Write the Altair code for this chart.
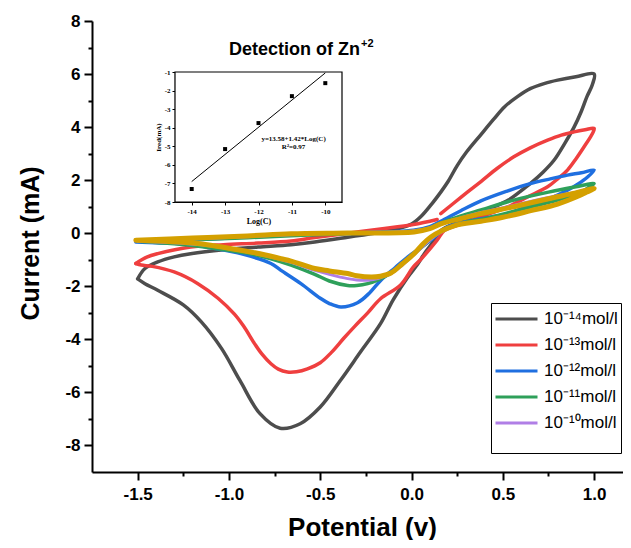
import altair as alt
import pandas as pd

# ---------------- data: cyclic voltammograms ----------------
labels = ["10⁻¹⁴mol/l", "10⁻¹³mol/l", "10⁻¹²mol/l", "10⁻¹¹mol/l", "10⁻¹⁰mol/l"]
colors = ["#4d4d4d", "#ef3f3f", "#1f6fe0", "#2ea05a", "#b07ee6"]
gold_color = "#d4a000"

gray_x = [-1.50, -1.46, -1.39, -1.30, -1.21, -1.03, -0.84, -0.66, -0.53, -0.35, -0.17, -0.08, 0.00, 0.05,
          0.11, 0.16, 0.20, 0.25, 0.30, 0.38, 0.45, 0.51, 0.58, 0.65, 0.73, 0.80, 0.90, 1.00,
          0.99, 0.96, 0.93, 0.89, 0.84, 0.78, 0.72, 0.65, 0.59, 0.53, 0.45, 0.38, 0.30, 0.23, 0.16,
          0.11, 0.07, 0.03, -0.02, -0.10, -0.17, -0.28, -0.39, -0.50, -0.61, -0.72, -0.83, -0.94,
          -1.04, -1.15, -1.25, -1.39, -1.46, -1.50]
gray_y = [-1.72, -1.33, -1.08, -0.89, -0.77, -0.62, -0.52, -0.43, -0.33, -0.15, 0.04, 0.16, 0.35, 0.62,
          1.10, 1.55, 1.95, 2.55, 3.05, 3.72, 4.30, 4.77, 5.15, 5.45, 5.65, 5.77, 5.90, 6.00,
          5.60, 5.14, 4.60, 4.00, 3.40, 2.75, 2.30, 1.87, 1.55, 1.25, 0.98, 0.74, 0.52, 0.35, 0.10,
          -0.40, -0.77, -1.20, -1.65, -2.50, -3.41, -4.48, -5.55, -6.55, -7.18, -7.35, -6.80, -5.55,
          -4.35, -3.35, -2.70, -2.15, -1.90, -1.72]

red1_x = [-1.51, -1.45, -1.39, -1.21, -1.03, -0.84, -0.66, -0.53, -0.35, -0.17, 0.01, 0.14]
red1_y = [-1.14, -0.90, -0.77, -0.52, -0.43, -0.37, -0.29, -0.16, 0.00, 0.16, 0.33, 0.52]
red2_x = [0.16, 0.27, 0.38, 0.47, 0.56, 0.65, 0.745, 0.82, 0.89, 0.95, 1.00,
          0.99, 0.945, 0.90, 0.854, 0.80, 0.745, 0.635, 0.526, 0.38, 0.25, 0.18, 0.14, 0.05, 0.01,
          -0.06, -0.17, -0.24, -0.31, -0.37, -0.44, -0.50, -0.57, -0.63, -0.68, -0.73, -0.77, -0.82,
          -0.86, -0.92, -0.97, -1.06, -1.17, -1.30, -1.42, -1.48, -1.51]
red2_y = [0.74, 1.35, 1.95, 2.45, 2.88, 3.22, 3.51, 3.70, 3.82, 3.90, 3.95,
          3.75, 3.26, 2.80, 2.38, 2.05, 1.75, 1.37, 0.99, 0.62, 0.30, 0.11, -0.26, -0.99, -1.27,
          -1.95, -2.47, -3.00, -3.50, -3.95, -4.50, -4.88, -5.11, -5.22, -5.23, -5.12, -4.92, -4.55,
          -4.16, -3.50, -3.05, -2.45, -1.90, -1.46, -1.25, -1.20, -1.14]

blue_x = [-1.51, -1.30, -1.00, -0.66, -0.35, 0.01, 0.10, 0.16, 0.27, 0.38, 0.52, 0.65, 0.76, 0.854, 0.93, 1.00,
          0.964, 0.91, 0.854, 0.77, 0.69, 0.60, 0.526, 0.43, 0.343, 0.197, 0.106, 0.04, -0.02, -0.09,
          -0.168, -0.23, -0.296, -0.387, -0.45, -0.50, -0.606, -0.715, -0.77, -0.935, -1.10, -1.21,
          -1.40, -1.51]
blue_y = [-0.33, -0.28, -0.18, -0.05, 0.01, 0.11, 0.25, 0.45, 0.85, 1.22, 1.58, 1.87, 2.05, 2.19, 2.28, 2.38,
          2.12, 1.85, 1.62, 1.35, 1.12, 0.92, 0.74, 0.60, 0.50, 0.24, -0.26, -0.60, -0.89, -1.30,
          -1.77, -2.25, -2.62, -2.78, -2.65, -2.45, -1.90, -1.40, -1.14, -0.77, -0.55, -0.42,
          -0.36, -0.33]

green_x = [-1.50, -1.20, -0.90, -0.60, -0.30, 0.00, 0.10, 0.16, 0.27, 0.38, 0.56, 0.75, 0.90, 1.00,
           0.96, 0.93, 0.80, 0.653, 0.50, 0.38, 0.30, 0.20, 0.142, 0.08, 0.014, -0.05, -0.113, -0.18,
           -0.24, -0.30, -0.35, -0.45, -0.53, -0.66, -0.77, -0.90, -1.10, -1.30, -1.50]
green_y = [-0.30, -0.25, -0.17, -0.08, 0.00, 0.08, 0.20, 0.38, 0.65, 0.88, 1.25, 1.55, 1.75, 1.87,
           1.68, 1.56, 1.25, 0.99, 0.72, 0.52, 0.42, 0.20, 0.00, -0.38, -0.77, -1.15, -1.50, -1.75,
           -1.90, -1.97, -1.97, -1.80, -1.55, -1.20, -0.96, -0.75, -0.55, -0.40, -0.30]

purple_x = [-1.50, -1.20, -0.90, -0.60, -0.30, 0.00, 0.10, 0.16, 0.27, 0.38, 0.56, 0.75, 0.90, 1.00,
            0.96, 0.93, 0.80, 0.653, 0.50, 0.38, 0.25, 0.15, 0.08, 0.014, -0.05, -0.113, -0.18, -0.24,
            -0.30, -0.35, -0.45, -0.53, -0.66, -0.80, -0.935, -1.10, -1.30, -1.50]
purple_y = [-0.30, -0.22, -0.13, -0.04, 0.02, 0.08, 0.20, 0.36, 0.58, 0.78, 1.05, 1.35, 1.55, 1.70,
            1.55, 1.45, 1.12, 0.87, 0.62, 0.45, 0.30, 0.00, -0.38, -0.80, -1.20, -1.52, -1.70, -1.77,
            -1.76, -1.71, -1.55, -1.40, -1.10, -0.85, -0.66, -0.48, -0.36, -0.30]

gold_x = [-1.51, -1.20, -0.90, -0.66, -0.35, 0.014, 0.10, 0.16, 0.27, 0.38, 0.56, 0.75, 0.90, 1.00,
          0.96, 0.93, 0.80, 0.653, 0.50, 0.38, 0.233, 0.106, 0.05, 0.014, -0.05, -0.113, -0.17, -0.22,
          -0.30, -0.35, -0.45, -0.53, -0.66, -0.715, -0.80, -0.935, -1.10, -1.21, -1.35, -1.51]
gold_y = [-0.26, -0.18, -0.10, -0.02, 0.01, 0.05, 0.17, 0.35, 0.55, 0.74, 1.00, 1.30, 1.52, 1.69,
          1.55, 1.45, 1.10, 0.85, 0.60, 0.45, 0.28, -0.14, -0.50, -0.77, -1.15, -1.50, -1.62, -1.65,
          -1.60, -1.52, -1.42, -1.33, -1.05, -0.96, -0.82, -0.64, -0.45, -0.36, -0.30, -0.26]

# ---------------- data: inset calibration ----------------
inset_logc = [-14, -13, -12, -11, -10]
inset_ired = [-7.30, -5.15, -3.75, -2.30, -1.60]
fit_x = [-14, -10]
fit_y = [-6.90, -1.05]
eq_text = ["y=13.58+1.42*Log(C)", "R²=0.97"]
eq_x = [-10.95, -10.95]
eq_y = [-4.62, -5.05]

x_ticks = [-1.5, -1.0, -0.5, 0.0, 0.5, 1.0]
x_minor = [-1.25, -0.75, -0.25, 0.25, 0.75]
y_ticks = [-8, -6, -4, -2, 0, 2, 4, 6, 8]
y_minor = [-7, -5, -3, -1, 1, 3, 5, 7]
inset_xticks = [-14, -13, -12, -11, -10]
inset_yticks = [-8, -7, -6, -5, -4, -3, -2, -1]

title_main = "Detection of Zn"
title_sup = "+2"


def mk(xs, ys, label, seg=0, start=0):
    return pd.DataFrame({"x": xs, "y": ys, "i": list(range(start, start + len(xs))),
                         "seg": seg, "label": label})


series = [
    mk(gray_x, gray_y, labels[0]),
    pd.concat([mk(red2_x, red2_y, labels[1], 0), mk(red1_x, red1_y, labels[1], 1)]),
    mk(blue_x, blue_y, labels[2]),
    mk(green_x, green_y, labels[3]),
    mk(purple_x, purple_y, labels[4]),
]
gold_df = mk(gold_x, gold_y, "gold")

FONT = "Liberation Sans"
MINUS = "\u2212"

xs = alt.Scale(domain=[-1.75, 1.158], nice=False, zero=False)
ys = alt.Scale(domain=[-9, 8], nice=False, zero=False)
cscale = alt.Scale(domain=labels, range=colors)

x_major = alt.Axis(values=x_ticks, orient="bottom", grid=False,
                   labelExpr=f"replace(format(datum.value, '.1f'), '{MINUS}', '-')",
                   domainColor="black", domainWidth=2, tickColor="black", tickWidth=2, tickSize=8,
                   labelFont=FONT, labelFontWeight="bold", labelFontSize=17, labelColor="black",
                   labelPadding=6, labelOverlap=False, labelFlush=False,
                   title="Potential (v)", titleFont=FONT, titleFontWeight="bold", titleFontSize=26,
                   titleColor="black", titleBaseline="alphabetic", titleY=63, titleX=270)
y_major = alt.Axis(values=y_ticks, orient="left", grid=False,
                   labelExpr=f"replace(format(datum.value, 'd'), '{MINUS}', '-')",
                   domainColor="black", domainWidth=2, tickColor="black", tickWidth=2, tickSize=8,
                   labelFont=FONT, labelFontWeight="bold", labelFontSize=17, labelColor="black",
                   labelPadding=4, labelOverlap=False, labelFlush=False,
                   title="Current (mA)", titleFont=FONT, titleFontWeight="bold", titleFontSize=25,
                   titleColor="black", titleAngle=270, titleX=-62, titleY=222,
                   titleAlign="center", titleBaseline="middle")
x_min_ax = alt.Axis(values=x_minor, orient="bottom", grid=False, labels=False, domain=False,
                    tickColor="black", tickWidth=2, tickSize=4, title=None)
y_min_ax = alt.Axis(values=y_minor, orient="left", grid=False, labels=False, domain=False,
                    tickColor="black", tickWidth=2, tickSize=4, title=None)

legend = alt.Legend(orient="none", legendX=399, legendY=282, title=" ", titleOrient="bottom",
                    titleFontSize=10, titlePadding=4,
                    strokeColor="black", padding=3, symbolType="stroke", symbolSize=1764,
                    symbolStrokeWidth=3, clipHeight=26, rowPadding=0, labelOffset=5,
                    labelFont=FONT, labelFontSize=17, labelColor="black", fillColor="white")

layers = []
minor = alt.Chart(series[0]).mark_point(opacity=0).encode(
    x=alt.X("x:Q", scale=xs, axis=x_min_ax), y=alt.Y("y:Q", scale=ys, axis=y_min_ax))
layers.append(minor)
widths = [3.5, 3.5, 3.5, 3.5, 3.0]
for k, df in enumerate(series):
    ax_x = x_major if k == 0 else None
    ax_y = y_major if k == 0 else None
    layers.append(
        alt.Chart(df).mark_line(strokeWidth=widths[k], interpolate="catmull-rom", strokeCap="round",
                                strokeJoin="round").encode(
            x=alt.X("x:Q", scale=xs, axis=ax_x),
            y=alt.Y("y:Q", scale=ys, axis=ax_y),
            color=alt.Color("label:N", scale=cscale, legend=legend),
            detail="seg:N",
            order="i:Q",
        )
    )
layers.append(
    alt.Chart(gold_df).mark_line(strokeWidth=5, color=gold_color, interpolate="catmull-rom",
                                 strokeCap="round").encode(
        x=alt.X("x:Q", scale=xs, axis=None), y=alt.Y("y:Q", scale=ys, axis=None), order="i:Q")
)
title_df = pd.DataFrame({"t": [title_main], "s": [title_sup]})
layers.append(alt.Chart(title_df).mark_text(align="left", baseline="alphabetic", font=FONT,
                                            fontWeight="bold", fontSize=18, color="black").encode(
    x=alt.value(137), y=alt.value(34), text="t:N"))
layers.append(alt.Chart(title_df).mark_text(align="left", baseline="alphabetic", font=FONT,
                                            fontWeight="bold", fontSize=11, color="black").encode(
    x=alt.value(269), y=alt.value(26), text="s:N"))

main = alt.layer(*layers).resolve_axis(x="independent", y="independent")

# ---------------- inset ----------------
ixs = alt.Scale(domain=[-14.5, -9.5], range=[83, 250], nice=False, zero=False)
iys = alt.Scale(domain=[-8, -1], range=[181, 51], nice=False, zero=False)
SERIF = "Liberation Serif"
ix_ax = alt.Axis(values=inset_xticks, orient="bottom", offset=-270, grid=False,
                 labelExpr=f"replace(format(datum.value, 'd'), '{MINUS}', '-')",
                 domainColor="black", domainWidth=1.2, tickColor="black", tickWidth=1, tickSize=3,
                 labelFont=SERIF, labelFontWeight="bold", labelFontSize=7, labelColor="black",
                 labelPadding=2, title="Log(C)", titleFont=SERIF, titleFontWeight="bold",
                 titleFontSize=8, titleColor="black", titlePadding=3)
iy_ax = alt.Axis(values=inset_yticks, orient="left", offset=-83, grid=False,
                 labelExpr=f"replace(format(datum.value, 'd'), '{MINUS}', '-')",
                 domainColor="black", domainWidth=1.2, tickColor="black", tickWidth=1, tickSize=3,
                 labelFont=SERIF, labelFontWeight="bold", labelFontSize=7, labelColor="black",
                 labelPadding=2, title="Ired(mA)", titleFont=SERIF, titleFontWeight="bold",
                 titleFontSize=7, titleColor="black", titlePadding=3)

frame_df = pd.DataFrame({"x0": [-14.5], "x1": [-9.5], "y0": [-8], "y1": [-1]})
frame = alt.Chart(frame_df).mark_rect(fill="white", stroke="black", strokeWidth=1.2).encode(
    x=alt.X("x0:Q", scale=ixs, axis=ix_ax), x2="x1:Q",
    y=alt.Y("y0:Q", scale=iys, axis=iy_ax), y2="y1:Q")
fit_df = pd.DataFrame({"x": fit_x, "y": fit_y})
fit = alt.Chart(fit_df).mark_line(color="black", strokeWidth=1).encode(
    x=alt.X("x:Q", scale=ixs, axis=ix_ax), y=alt.Y("y:Q", scale=iys, axis=iy_ax))
pts_df = pd.DataFrame({"x": inset_logc, "y": inset_ired})
pts = alt.Chart(pts_df).mark_square(size=16, color="black", opacity=1).encode(
    x=alt.X("x:Q", scale=ixs, axis=ix_ax), y=alt.Y("y:Q", scale=iys, axis=iy_ax))
eq_df = pd.DataFrame({"x": eq_x, "y": eq_y, "t": eq_text})
eq = alt.Chart(eq_df).mark_text(font=SERIF, fontWeight="bold", fontSize=7, color="black").encode(
    x=alt.X("x:Q", scale=ixs, axis=ix_ax), y=alt.Y("y:Q", scale=iys, axis=iy_ax), text="t:N")
inset = alt.layer(frame, fit, pts, eq)

chart = alt.layer(main, inset).resolve_scale(x="independent", y="independent").properties(
    width=531, height=451,
    padding={"left": 84, "top": 13, "right": 0, "bottom": 68},
    autosize=alt.AutoSizeParams(type="none"),
    background="white",
).configure_view(stroke=None)

chart.save("out.html", embed_options={"renderer": "svg", "actions": False})
